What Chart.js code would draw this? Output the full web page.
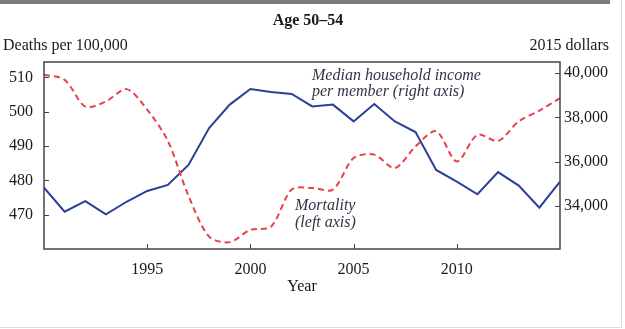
<!DOCTYPE html>
<html>
<head>
<meta charset="utf-8">
<script src="https://cdn.jsdelivr.net/npm/chart.js@4/dist/chart.umd.min.js"></script>
<style>
  html, body { margin: 0; padding: 0; background: #fff; }
  #wrap { position: relative; width: 625px; height: 329px; }
  #topbar { position: absolute; left: 0; top: 0; width: 610px; height: 4px; background: #7a7a7a; }
  #edgeR { position: absolute; left: 621px; top: 0; width: 1px; height: 328px; background: #dcdcdc; }
  #edgeB { position: absolute; left: 0; top: 327px; width: 622px; height: 1px; background: #dcdcdc; }
  canvas { position: absolute; left: 0; top: 0; }
</style>
</head>
<body>
<div id="wrap">
  <canvas id="chart" width="625" height="329"></canvas>
  <div id="topbar"></div>
  <div id="edgeR"></div>
  <div id="edgeB"></div>
</div>
<script>
// data
const years = [1990, 1991, 1992, 1993, 1994, 1995, 1996, 1997, 1998, 1999, 2000, 2001, 2002,
               2003, 2004, 2005, 2006, 2007, 2008, 2009, 2010, 2011, 2012, 2013, 2014, 2015];
const mortality = [510.8, 509.3, 501.5, 503.0, 506.6, 500.6, 491.5, 475.5, 463.6, 462.0, 465.6, 466.5, 477.3,
                   477.8, 477.3, 486.5, 487.5, 483.6, 489.9, 494.3, 485.5, 493.3, 491.5, 497.2, 500.3, 504.0];
const income = [34820, 33730, 34210, 33610, 34180, 34670, 34940, 35850, 37520, 38580, 39290, 39150, 39060,
                38500, 38580, 37820, 38610, 37820, 37340, 35620, 35090, 34520, 35520, 34910, 33910, 35090];
const xTicks = [1995, 2000, 2005, 2010];
const leftTicks = [470, 480, 490, 500, 510];
const rightTicks = [34000, 36000, 38000, 40000];

const SERIF = '"Liberation Serif", "DejaVu Serif", serif';

// box, inward tick marks and the free texts
const framePlugin = {
  id: 'frame',
  afterDraw(chart) {
    const ctx = chart.ctx;
    const a = chart.chartArea;
    const sx = chart.scales.x, yl = chart.scales.y, yr = chart.scales.y1;
    ctx.save();
    ctx.strokeStyle = '#444';
    ctx.lineWidth = 1.5;
    ctx.strokeRect(a.left, a.top, a.right - a.left, a.bottom - a.top);

    ctx.lineWidth = 1;
    ctx.beginPath();
    xTicks.forEach(v => {
      const px = Math.round(sx.getPixelForValue(v)) + 0.5;
      ctx.moveTo(px, a.bottom); ctx.lineTo(px, a.bottom - 5);
    });
    leftTicks.forEach(v => {
      const py = Math.round(yl.getPixelForValue(v)) + 0.5;
      ctx.moveTo(a.left, py); ctx.lineTo(a.left + 5, py);
    });
    rightTicks.forEach(v => {
      const py = Math.round(yr.getPixelForValue(v)) + 0.5;
      ctx.moveTo(a.right, py); ctx.lineTo(a.right - 5, py);
    });
    ctx.stroke();

    ctx.fillStyle = '#1a1a1a';
    ctx.textBaseline = 'middle';
    ctx.font = 'bold 16px ' + SERIF;
    ctx.textAlign = 'center';
    ctx.fillText('Age 50–54', 308, 21);
    ctx.font = '16px ' + SERIF;
    ctx.textAlign = 'left';
    ctx.fillText('Deaths per 100,000', 3, 46);
    ctx.textAlign = 'right';
    ctx.fillText('2015 dollars', 609, 46);
    ctx.textAlign = 'center';
    ctx.fillText('Year', 302, 287);

    ctx.fillStyle = '#333345';
    ctx.font = 'italic 16px ' + SERIF;
    ctx.textAlign = 'left';
    ctx.fillText('Median household income', 312, 76);
    ctx.fillText('per member (right axis)', 312, 92);
    ctx.fillText('Mortality', 295, 206);
    ctx.fillText('(left axis)', 295, 223);
    ctx.restore();
  }
};

new Chart(document.getElementById('chart'), {
  type: 'line',
  data: {
    datasets: [{
      label: 'Mortality',
      data: years.map((y, i) => ({ x: y, y: mortality[i] })),
      yAxisID: 'y',
      borderColor: '#e8414c',
      borderWidth: 2,
      borderDash: [6, 4],
      tension: 0.3,
      pointRadius: 0,
      fill: false
    }, {
      label: 'Median household income per member',
      data: years.map((y, i) => ({ x: y, y: income[i] })),
      yAxisID: 'y1',
      borderColor: '#2b3f96',
      borderWidth: 2,
      tension: 0,
      pointRadius: 0,
      fill: false
    }]
  },
  options: {
    responsive: false,
    animation: false,
    layout: { padding: { top: 62, left: 0, right: 0, bottom: 0 } },
    plugins: { legend: { display: false }, tooltip: { enabled: false } },
    scales: {
      x: {
        type: 'linear',
        min: 1990, max: 2015,
        afterBuildTicks: s => { s.ticks = xTicks.map(v => ({ value: v })); },
        afterFit: s => { s.height = 80; },
        grid: { display: false, drawTicks: false },
        border: { display: false },
        ticks: { padding: 11, color: '#1a1a1a', font: { family: SERIF, size: 16 }, callback: v => String(v) }
      },
      y: {
        position: 'left',
        min: 460, max: 514.5,
        afterBuildTicks: s => { s.ticks = leftTicks.map(v => ({ value: v })); },
        afterFit: s => { s.width = 44; },
        grid: { display: false, drawTicks: false },
        border: { display: false },
        ticks: { padding: 11, color: '#1a1a1a', font: { family: SERIF, size: 16 } }
      },
      y1: {
        position: 'right',
        min: 32040, max: 40510,
        afterBuildTicks: s => { s.ticks = rightTicks.map(v => ({ value: v })); },
        afterFit: s => { s.width = 65; },
        grid: { display: false, drawTicks: false },
        border: { display: false },
        ticks: { padding: 4, color: '#1a1a1a', font: { family: SERIF, size: 16 },
                 callback: v => v.toLocaleString('en-US') }
      }
    }
  },
  plugins: [framePlugin]
});
</script>
</body>
</html>
